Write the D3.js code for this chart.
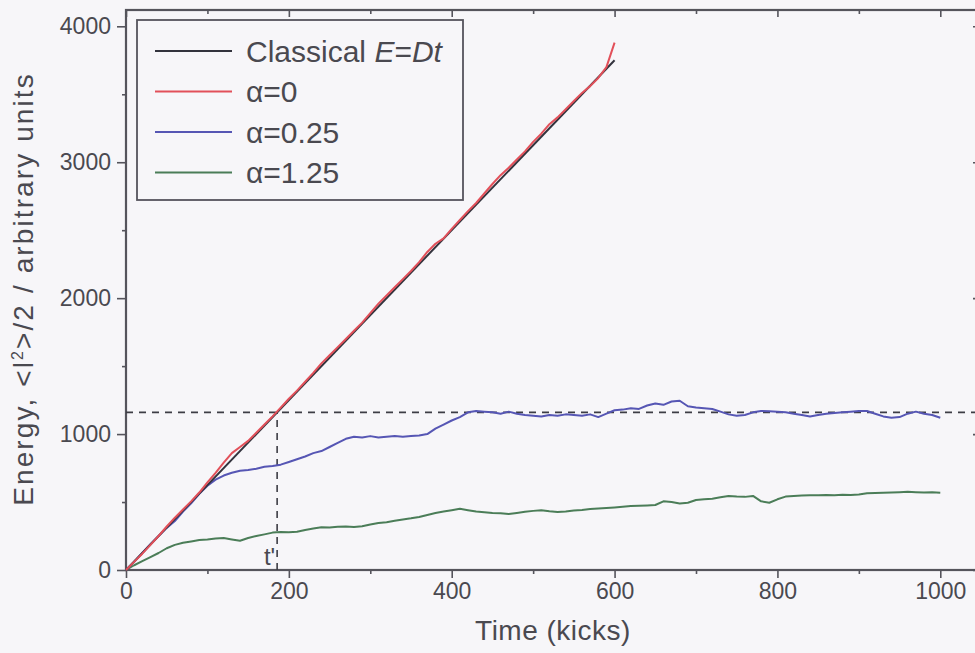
<!DOCTYPE html>
<html>
<head>
<meta charset="utf-8">
<script src="https://cdn.jsdelivr.net/npm/d3@7"></script>
<style>
  html, body { margin: 0; padding: 0; background: #f7f6f9; }
  svg { display: block; }
</style>
</head>
<body>
<div id="chart"></div>
<script>
// Energy vs kicks (step 10 kicks)
var D = 6.25;          // classical diffusion slope
var ESAT = 1160;       // saturation level (dashed line)
var classicalT = [0, 600];

var redT = d3.range(0, 601, 10);
var redE = [0, 60, 120, 185, 250, 320, 385, 445, 505, 570,
  645, 715, 790, 860, 905, 950, 1010, 1070, 1130, 1195,
  1260, 1320, 1385, 1450, 1520, 1580, 1640, 1700, 1760, 1820,
  1890, 1960, 2020, 2080, 2140, 2200, 2265, 2340, 2400, 2440,
  2510, 2575, 2640, 2700, 2770, 2840, 2905, 2960, 3020, 3080,
  3150, 3210, 3280, 3330, 3390, 3450, 3510, 3560, 3620, 3700, 3880];

var blueT = d3.range(0, 1001, 10);
var blueE = [0, 60, 125, 190, 250, 310, 360, 430, 490, 560,
  620, 665, 695, 715, 730, 735, 745, 760, 765, 775,
  795, 815, 835, 860, 875, 905, 935, 965, 980, 975,
  985, 975, 980, 985, 980, 985, 990, 1000, 1040, 1070,
  1100, 1125, 1160, 1170, 1165, 1160, 1150, 1165, 1150, 1140,
  1135, 1130, 1140, 1135, 1145, 1140, 1135, 1145, 1125, 1150,
  1175, 1180, 1190, 1185, 1210, 1225, 1215, 1240, 1245, 1205,
  1195, 1190, 1185, 1165, 1145, 1135, 1140, 1160, 1170, 1168,
  1165, 1160, 1150, 1140, 1130, 1140, 1150, 1155, 1160, 1165,
  1170, 1170, 1150, 1130, 1120, 1125, 1150, 1165, 1150, 1140, 1120];

var greenT = d3.range(0, 1001, 10);
var greenE = [0, 35, 65, 95, 125, 160, 185, 200, 210, 220,
  225, 232, 235, 225, 215, 235, 250, 262, 275, 280,
  278, 282, 295, 305, 315, 312, 318, 320, 316, 322,
  335, 345, 352, 362, 372, 380, 390, 405, 420, 430,
  440, 450, 440, 430, 425, 420, 418, 412, 420, 428,
  435, 440, 432, 426, 430, 438, 442, 448, 452, 456,
  460, 465, 470, 472, 475, 478, 505, 500, 490, 495,
  515, 520, 525, 535, 545, 540, 538, 545, 505, 495,
  520, 540, 545, 548, 550, 550, 552, 550, 553, 552,
  556, 565, 566, 568, 570, 572, 575, 572, 570, 572, 568];

var xTicks = [0, 200, 400, 600, 800, 1000];
var xMinor = [100, 300, 500, 700, 900];
var yTicks = [0, 1000, 2000, 3000, 4000];
var yMinor = [500, 1500, 2500, 3500];

var legendLabels = ['Classical', '\u03b1=0', '\u03b1=0.25', '\u03b1=1.25'];
var legendColors = ['#33333d', '#e2505a', '#5656b4', '#4b7d58'];

var W = 975, H = 653;
var margin = { left: 126, top: 10 };
var innerW = 855, innerH = 560;

var svg = d3.select('#chart').append('svg')
    .attr('width', W).attr('height', H)
    .style('font-family', 'Liberation Sans, Arial, sans-serif');

svg.append('rect').attr('width', W).attr('height', H).attr('fill', '#f7f6f9');

var x = d3.scaleLinear().domain([0, 1050]).range([margin.left, margin.left + innerW]);
var y = d3.scaleLinear().domain([0, 4120]).range([margin.top + innerH, margin.top]);

var axisCol = '#55545c';
var textCol = '#4a4950';

// frame
svg.append('rect')
    .attr('x', x(0)).attr('y', y(4120))
    .attr('width', x(1050) - x(0)).attr('height', y(0) - y(4120))
    .attr('fill', 'none').attr('stroke', axisCol).attr('stroke-width', 2.2);

// axes
function styleAxis(g) {
    g.select('.domain').remove();
    g.selectAll('line').attr('stroke', axisCol).attr('stroke-width', 1.6);
    g.selectAll('text').attr('fill', textCol).style('font-size', '23px');
}

svg.append('g').attr('transform', 'translate(0,' + y(0) + ')')
    .call(d3.axisBottom(x).tickValues(xTicks).tickSize(8).tickPadding(5).tickFormat(d3.format('d')))
    .call(styleAxis);
svg.append('g').attr('transform', 'translate(0,' + y(0) + ')')
    .call(d3.axisBottom(x).tickValues(xMinor).tickSize(4).tickFormat(''))
    .call(styleAxis);
svg.append('g').attr('transform', 'translate(' + x(0) + ',0)')
    .call(d3.axisLeft(y).tickValues(yTicks).tickSize(9).tickPadding(6).tickFormat(d3.format('d')))
    .call(styleAxis);
svg.append('g').attr('transform', 'translate(' + x(0) + ',0)')
    .call(d3.axisLeft(y).tickValues(yMinor).tickSize(4).tickFormat(''))
    .call(styleAxis);
// mirrored inward ticks on top and right
svg.append('g').attr('transform', 'translate(0,' + y(4120) + ')')
    .call(d3.axisBottom(x).tickValues(xTicks).tickSize(7).tickFormat(''))
    .call(styleAxis);
svg.append('g').attr('transform', 'translate(0,' + y(4120) + ')')
    .call(d3.axisBottom(x).tickValues(xMinor).tickSize(4).tickFormat(''))
    .call(styleAxis);
svg.append('g').attr('transform', 'translate(' + x(1050) + ',0)')
    .call(d3.axisLeft(y).tickValues(yTicks).tickSize(8).tickFormat(''))
    .call(styleAxis);
svg.append('g').attr('transform', 'translate(' + x(1050) + ',0)')
    .call(d3.axisLeft(y).tickValues(yMinor).tickSize(4).tickFormat(''))
    .call(styleAxis);

// axis titles
svg.append('text')
    .attr('x', 553).attr('y', 640)
    .attr('text-anchor', 'middle').attr('fill', textCol)
    .style('font-size', '28px').style('letter-spacing', '0.5px')
    .text('Time (kicks)');

var yt = svg.append('text')
    .attr('transform', 'translate(33,' + 289 + ') rotate(-90)')
    .attr('text-anchor', 'middle').attr('fill', textCol)
    .style('font-size', '28px').style('letter-spacing', '2.1px');
yt.append('tspan').text('Energy, <l');
yt.append('tspan').attr('dy', -10).style('font-size', '16px').text('2');
yt.append('tspan').attr('dy', 10).text('>/2 / arbitrary units');

// dashed guides at saturation level and t'
var tPrime = ESAT / D;
svg.append('line')
    .attr('x1', x(0)).attr('x2', x(1050)).attr('y1', y(ESAT)).attr('y2', y(ESAT))
    .attr('stroke', '#3d3d45').attr('stroke-width', 1.6).attr('stroke-dasharray', '7,6');
svg.append('line')
    .attr('x1', x(tPrime)).attr('x2', x(tPrime)).attr('y1', y(0)).attr('y2', y(ESAT))
    .attr('stroke', '#3d3d45').attr('stroke-width', 1.6).attr('stroke-dasharray', '7,6');
svg.append('text')
    .attr('x', x(tPrime) - 2).attr('y', y(0) - 5)
    .attr('text-anchor', 'end').attr('fill', textCol)
    .style('font-size', '24px').text('t\'');

// curves
var line = d3.line()
    .x(function (d) { return x(d[0]); })
    .y(function (d) { return y(d[1]); });

function pairs(ts, es) { return ts.map(function (t, i) { return [t, es[i]]; }); }

var series = [
    { data: pairs(greenT, greenE), color: legendColors[3] },
    { data: pairs(blueT, blueE), color: legendColors[2] },
    { data: classicalT.map(function (t) { return [t, D * t]; }), color: legendColors[0] },
    { data: pairs(redT, redE), color: legendColors[1] }
];

svg.append('g').selectAll('path').data(series).enter().append('path')
    .attr('d', function (d) { return line(d.data); })
    .attr('fill', 'none')
    .attr('stroke', function (d) { return d.color; })
    .attr('stroke-width', 2)
    .attr('stroke-linejoin', 'round');

// legend
var lg = svg.append('g');
lg.append('rect')
    .attr('x', 137).attr('y', 20).attr('width', 326).attr('height', 180)
    .attr('fill', '#f7f6f9').attr('stroke', axisCol).attr('stroke-width', 1.8);

legendLabels.forEach(function (lab, i) {
    var cy = 51 + i * 40.5;
    lg.append('line')
        .attr('x1', 155).attr('x2', 232).attr('y1', cy).attr('y2', cy)
        .attr('stroke', legendColors[i]).attr('stroke-width', 2);
    var t = lg.append('text')
        .attr('x', 246).attr('y', cy + 10.5)
        .attr('fill', textCol).style('font-size', '30px');
    t.append('tspan').text(lab);
    if (i === 0) {
        t.append('tspan').text(' ');
        t.append('tspan').style('font-style', 'italic').text('E');
        t.append('tspan').text('=');
        t.append('tspan').style('font-style', 'italic').text('Dt');
    }
});
</script>
</body>
</html>
